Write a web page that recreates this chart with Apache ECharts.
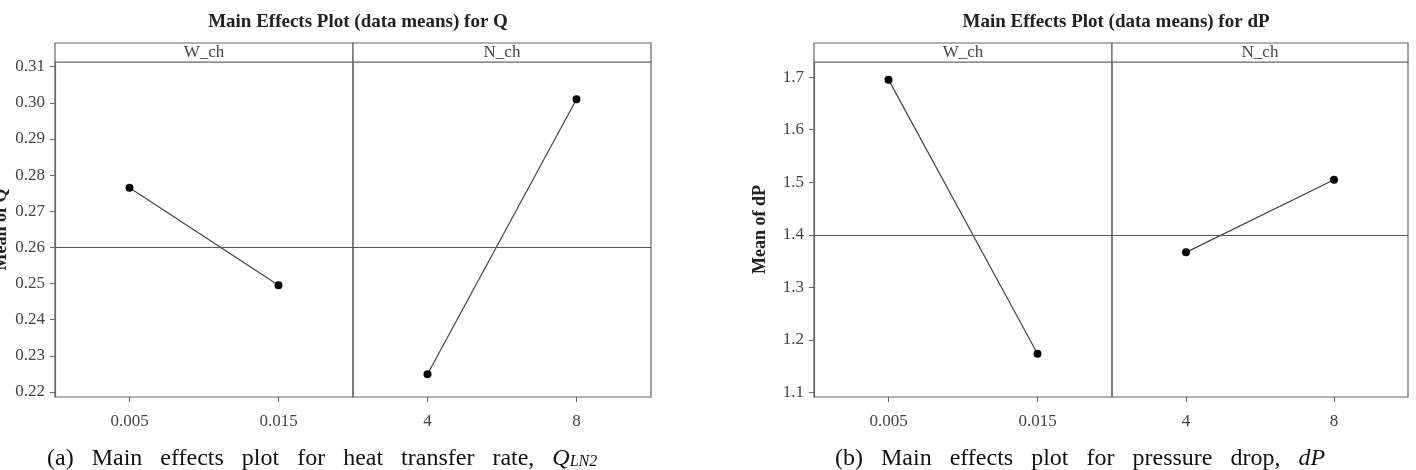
<!DOCTYPE html>
<html>
<head>
<meta charset="utf-8">
<script src="https://cdn.jsdelivr.net/npm/echarts@6/dist/echarts.min.js"></script>
<style>
  html, body { margin: 0; padding: 0; background: #fff; }
  #main { width: 1416px; height: 470px; }
</style>
</head>
<body>
<div id="main"></div>
<script>
// factor levels
const wLevels = ["0.005", "0.015"];
const nLevels = ["4", "8"];

// means of Q
const qW = [0.2765, 0.2495];
const qN = [0.2249, 0.3010];
const qMean = 0.2563;
const qTicks = [0.22, 0.23, 0.24, 0.25, 0.26, 0.27, 0.28, 0.29, 0.30, 0.31];

// means of dP
const dpW = [1.6954, 1.1733];
const dpN = [1.3665, 1.5046];
const dpMean = 1.4013;
const dpTicks = [1.1, 1.2, 1.3, 1.4, 1.5, 1.6, 1.7];

const serif = "'Liberation Serif', 'DejaVu Serif', serif";
const frame = "#666";
const chart = echarts.init(document.getElementById("main"));

// panel geometry
const panels = [
  { left: 55, width: 298 },
  { left: 353, width: 298 },
  { left: 814, width: 298 },
  { left: 1112, width: 296 },
];
const gridTop = 62, gridH = 335, stripH = 19;

function xAxis(i, data) {
  return {
    type: "category", gridIndex: i, data: data, boundaryGap: true,
    axisLine: { show: false },
    axisTick: { show: true, alignWithLabel: true, length: 5, lineStyle: { color: frame } },
    axisLabel: { margin: 16, fontFamily: serif, fontSize: 17, color: "#444" },
    splitLine: { show: false },
  };
}

function yAxis(i, min, max, ticks, name, show) {
  return {
    type: "value", gridIndex: i, min: min, max: max, show: show,
    name: name, nameLocation: "middle", nameRotate: 90, nameGap: 45,
    nameTextStyle: { fontFamily: serif, fontSize: 18, fontWeight: "bold", color: "#222" },
    axisLine: { show: true, lineStyle: { color: frame, width: 1.2 } },
    axisTick: { show: true, length: 5, customValues: ticks, lineStyle: { color: frame } },
    axisLabel: {
      margin: 10, fontFamily: serif, fontSize: 17, color: "#444", customValues: ticks,
      formatter: (v) => (max < 1 ? v.toFixed(2) : v.toFixed(1)),
    },
    splitLine: { show: false },
  };
}

function series(i, data, mean) {
  return {
    type: "line", xAxisIndex: i, yAxisIndex: i, data: data,
    symbol: "circle", symbolSize: 8,
    itemStyle: { color: "#000" },
    lineStyle: { color: "#444", width: 1.2 },
    markLine: {
      silent: true, symbol: "none", label: { show: false },
      lineStyle: { color: "#555", width: 1.2, type: "solid" },
      data: [{ yAxis: mean }],
    },
    z: 3,
  };
}

const strips = [];
const stripNames = ["W_ch", "N_ch", "W_ch", "N_ch"];
panels.forEach((p, i) => {
  strips.push({
    type: "rect",
    shape: { x: p.left, y: gridTop - stripH, width: p.width, height: stripH },
    style: { fill: "#fff", stroke: frame, lineWidth: 1.2 },
  });
  strips.push({
    type: "text", x: p.left + p.width / 2, y: gridTop - stripH / 2,
    style: {
      text: stripNames[i], fontFamily: serif, fontSize: 17, fill: "#444",
      textAlign: "center", textVerticalAlign: "middle",
    },
  });
});

const capStyle = {
  fontWeight: "normal",
  rich: {
    n: { fontFamily: serif, fontSize: 24, fontWeight: "normal", color: "#111" },
    i: { fontFamily: serif, fontSize: 24, fontWeight: "normal", fontStyle: "italic", color: "#111" },
    s: { fontFamily: serif, fontSize: 16, fontWeight: "normal", fontStyle: "italic", color: "#111", padding: [5, 0, 0, 0] },
  },
};

chart.setOption({
  animation: false,
  backgroundColor: "#fff",
  title: [
    {
      text: "Main Effects Plot (data means) for Q", left: 353, top: 8, textAlign: "center",
      textStyle: { fontFamily: serif, fontSize: 19, fontWeight: "bold", color: "#222" },
    },
    {
      text: "Main Effects Plot (data means) for dP", left: 1111, top: 8, textAlign: "center",
      textStyle: { fontFamily: serif, fontSize: 19, fontWeight: "bold", color: "#222" },
    },
    {
      text: "{n|(a)   Main   effects   plot   for   heat   transfer   rate,   }{i|Q}{s|LN2}",
      left: 42, top: 442, textStyle: capStyle,
    },
    {
      text: "{n|(b)   Main   effects   plot   for   pressure   drop,   }{i|dP}",
      left: 830, top: 442, textStyle: capStyle,
    },
  ],
  grid: panels.map((p) => ({
    left: p.left, top: gridTop, width: p.width, height: gridH,
    outerBoundsMode: "none",
    show: true, borderColor: frame, borderWidth: 1.2, backgroundColor: "transparent",
  })),
  xAxis: [xAxis(0, wLevels), xAxis(1, nLevels), xAxis(2, wLevels), xAxis(3, nLevels)],
  yAxis: [
    yAxis(0, 0.2186, 0.3113, qTicks, "Mean of Q", true),
    yAxis(1, 0.2186, 0.3113, qTicks, "", false),
    yAxis(2, 1.091, 1.729, dpTicks, "Mean of dP", true),
    yAxis(3, 1.091, 1.729, dpTicks, "", false),
  ],
  series: [series(0, qW, qMean), series(1, qN, qMean), series(2, dpW, dpMean), series(3, dpN, dpMean)],
  graphic: strips,
});
</script>
</body>
</html>
